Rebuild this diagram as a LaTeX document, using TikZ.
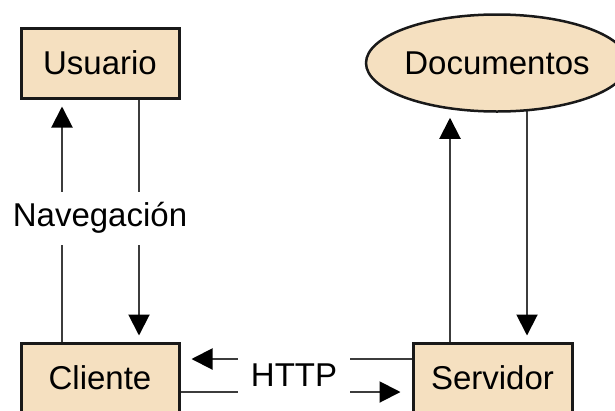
\documentclass[tikz,border=0pt]{standalone}
\usepackage{fontspec}
\setmainfont{Liberation Sans}
\usetikzlibrary{arrows.meta,shapes.geometric,backgrounds}
\definecolor{boxfill}{RGB}{245,224,192}
\definecolor{linegray}{RGB}{60,60,60}
\definecolor{edgegray}{RGB}{25,25,25}
\tikzset{
  txt/.style={font=\fontsize{33}{38}\selectfont, text=black},
  boxnode/.style={txt, draw=edgegray, line width=3pt, fill=boxfill, minimum width=158pt, minimum height=70pt, inner sep=0pt},
  ellnode/.style={txt, ellipse, draw=edgegray, line width=2.5pt, fill=boxfill, minimum width=232pt, minimum height=97pt, inner sep=0pt},
  conn/.style={draw=linegray, line width=2pt},
  arr/.style={conn, -{Triangle[length=21pt,width=21pt,color=black]}},
  lbl/.style={txt, fill=white, inner sep=0pt}
}
\begin{document}
\begin{tikzpicture}[x=1pt,y=-1pt]
\useasboundingbox (0,0) rectangle (615,410);
\clip (0,0) rectangle (615,410);
\node[boxnode] (usuario) at (100,63) {Usuario};
\node[boxnode] (cliente) at (100,378) {Cliente};
\node[boxnode, minimum width=159pt] (servidor) at (492.5,378) {Servidor};
\node[ellnode] (docs) at (497,63) {Documentos};
\coordinate (navL) at (62,0);
\coordinate (navR) at (139,0);
\coordinate (docL) at (450,0);
\coordinate (docR) at (527,0);
\coordinate (httpU) at (0,359);
\coordinate (httpD) at (0,392);
\begin{pgfonlayer}{background}
\draw[arr, shorten >=7pt] (cliente.north -| navL) -- (usuario.south -| navL);
\draw[arr, shorten >=6pt] (usuario.south -| navR) -- (cliente.north -| navR);
\draw[arr, shorten >=5pt] (servidor.north -| docL) -- (docs.south -| docL);
\draw[arr, shorten >=6pt] (docs.center -| docR) -- (servidor.north -| docR);
\draw[arr, shorten >=11pt] (servidor.west |- httpU) -- (cliente.east |- httpU);
\draw[arr, shorten >=11pt] (cliente.east |- httpD) -- (servidor.west |- httpD);
\end{pgfonlayer}
\node[lbl, minimum width=112pt, minimum height=44pt] (http) at (294,375) {HTTP};
\node[lbl, minimum width=184pt, minimum height=53pt] (nav) at (100,218) {Navegación};
\end{tikzpicture}
\end{document}
